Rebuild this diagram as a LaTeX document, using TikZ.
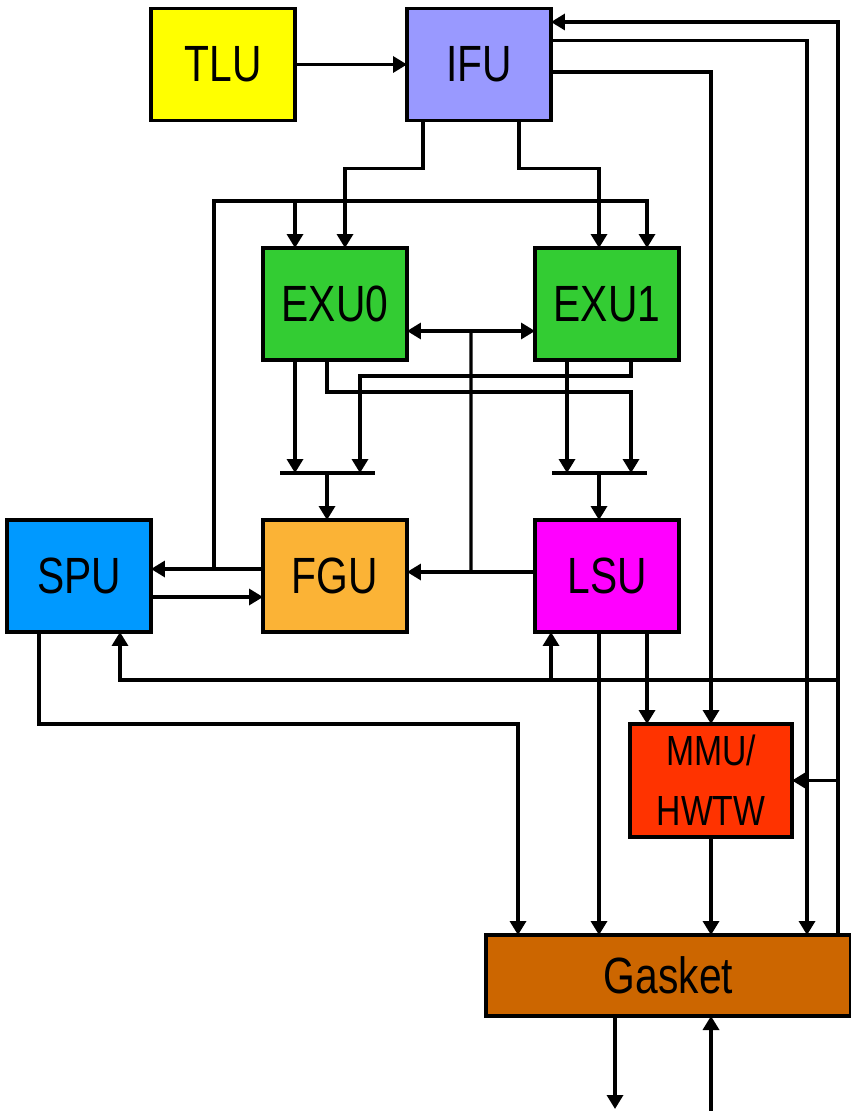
\documentclass[tikz,border=0pt]{standalone}
\usepackage{fontspec}
\setmainfont{Liberation Sans}
\newfontfamily\unitfont[FakeStretch=0.8]{Liberation Sans}
\usetikzlibrary{calc, arrows.meta}
\definecolor{TluYellow}{HTML}{FFFF00}
\definecolor{IfuBlue}{HTML}{9999FF}
\definecolor{ExuGreen}{HTML}{33CC33}
\definecolor{SpuBlue}{HTML}{0099FF}
\definecolor{FguOrange}{HTML}{FBB336}
\definecolor{LsuPink}{HTML}{FF00FF}
\definecolor{MmuRed}{HTML}{FF3300}
\definecolor{GasketBrown}{HTML}{CC6600}
\tikzset{
    unit/.style={rectangle, draw=black, line width=2pt, outer sep=0pt, minimum width=2.88cm, minimum height=2.24cm, inner sep=0pt, align=center, font=\unitfont\fontsize{29}{34}\selectfont},
    link/.style={-{Triangle[length=0.28cm, width=0.32cm]}, line width=1.9pt},
    both/.style={{Triangle[length=0.28cm, width=0.32cm]}-{Triangle[length=0.28cm, width=0.32cm]}, line width=1.9pt},
    wire/.style={line width=1.9pt},
}

\begin{document}
\begin{tikzpicture}[x=0.02cm, y=-0.02cm]
    \useasboundingbox (0,0) rectangle (850,1111);

    % Units
    \node[unit, fill=TluYellow] (tlu) at (223,64.5) {TLU};
    \node[unit, fill=IfuBlue] (ifu) at (479,64.5) {IFU};
    \node[unit, fill=ExuGreen] (exu0) at (335,304) {EXU0};
    \node[unit, fill=ExuGreen] (exu1) at (607,304) {EXU1};
    \node[unit, fill=SpuBlue] (spu) at (79,576) {SPU};
    \node[unit, fill=FguOrange] (fgu) at (335,576) {FGU};
    \node[unit, fill=LsuPink] (lsu) at (607,576) {LSU};
    \node[unit, fill=MmuRed, minimum width=3.24cm, minimum height=2.26cm, font=\unitfont\fontsize{24}{34}\selectfont] (mmu) at (711,780.5) {MMU/\\HWTW};
    \node[unit, fill=GasketBrown, minimum width=7.3cm, minimum height=1.62cm] (gasket) at (668.5,975.5) {Gasket};

    % Fetch
    \draw[link] (tlu) -- (ifu);
    \draw[link] ($(ifu.south)+(-56,0)$) -- ++(0,48) -| ($(exu0.north)+(10,0)$);
    \draw[link] ($(ifu.south)+(40,0)$) -- ++(0,48) -| ($(exu1.north)+(-8,0)$);
    \draw[link] ($(ifu.east)+(0,7.5)$) -| (mmu.north);
    \draw[link] ($(ifu.east)+(0,-24)$) -| ($(gasket.north)+(138.5,0)$);

    % Return from gasket
    \draw[link] ($(gasket.north)+(169.5,0)$) |- ($(ifu.east)+(0,-42.5)$);
    \coordinate (ret) at ($(gasket.north)+(169.5,-255)$);
    \draw[link] (ret) -| ($(spu.south)+(41,0)$);
    \draw[link] (ret) -| ($(lsu.south)+(-56,0)$);
    \draw[link] (ret |- mmu.east) -- (mmu.east);

    % FGU, SPU and bypass
    \draw[link] ($(fgu.west)+(0,-7)$) -- ($(spu.east)+(0,-7)$);
    \draw[link] ($(fgu.west)+(-49,-7)$) -- ++(0,-368) -| ($(exu1.north)+(40,0)$);
    \draw[link] ($(exu0.north)+(-40,-47)$) -- ($(exu0.north)+(-40,0)$);
    \draw[link] ($(spu.east)+(0,21)$) -- ($(fgu.west)+(0,21)$);
    \draw[link] ($(lsu.west)+(0,-4)$) -- ($(fgu.east)+(0,-4)$);
    \draw[both] ($(exu0.east)+(0,27)$) -- ($(exu1.west)+(0,27)$);
    \draw[wire] ($(lsu.west)+(-64,-4)$) -- ($(exu0.east)+(64,27)$);

    % Merge bars
    \coordinate (fgMerge) at ($(fgu.north)+(-8,-47)$);
    \coordinate (lsMerge) at ($(lsu.north)+(-8,-47)$);
    \draw[wire] ($(fgMerge)+(-47,0)$) -- ($(fgMerge)+(48,0)$);
    \draw[wire] ($(lsMerge)+(-47,0)$) -- ($(lsMerge)+(48,0)$);
    \draw[link] (fgMerge) -- ($(fgu.north)+(-8,0)$);
    \draw[link] (lsMerge) -- ($(lsu.north)+(-8,0)$);
    \draw[link] ($(exu0.south)+(-40,0)$) -- ($(fgMerge)+(-32,0)$);
    \draw[link] ($(exu1.south)+(24,0)$) -- ++(0,16) -| ($(fgMerge)+(33,0)$);
    \draw[link] ($(exu0.south)+(-8,0)$) -- ++(0,32) -| ($(lsMerge)+(32,0)$);
    \draw[link] ($(exu1.south)+(-40,0)$) -- ($(lsMerge)+(-32,0)$);

    % To gasket
    \draw[link] ($(spu.south)+(-40,0)$) -- ++(0,92) -| ($(gasket.north)+(-150.5,0)$);
    \draw[link] ($(lsu.south)+(-8,0)$) -- ($(gasket.north)+(-69.5,0)$);
    \draw[link] ($(lsu.south)+(40,0)$) -- ($(mmu.north)+(-64,0)$);
    \draw[link] (mmu.south) -- (gasket.north -| mmu.south);

    % Off chip
    \coordinate (memOut) at ($(gasket.south)+(-53.5,93)$);
    \coordinate (memIn) at ($(gasket.south)+(42.5,95)$);
    \draw[link] ($(gasket.south)+(-53.5,0)$) -- (memOut);
    \draw[link] (memIn) -- ($(gasket.south)+(42.5,0)$);
\end{tikzpicture}
\end{document}
